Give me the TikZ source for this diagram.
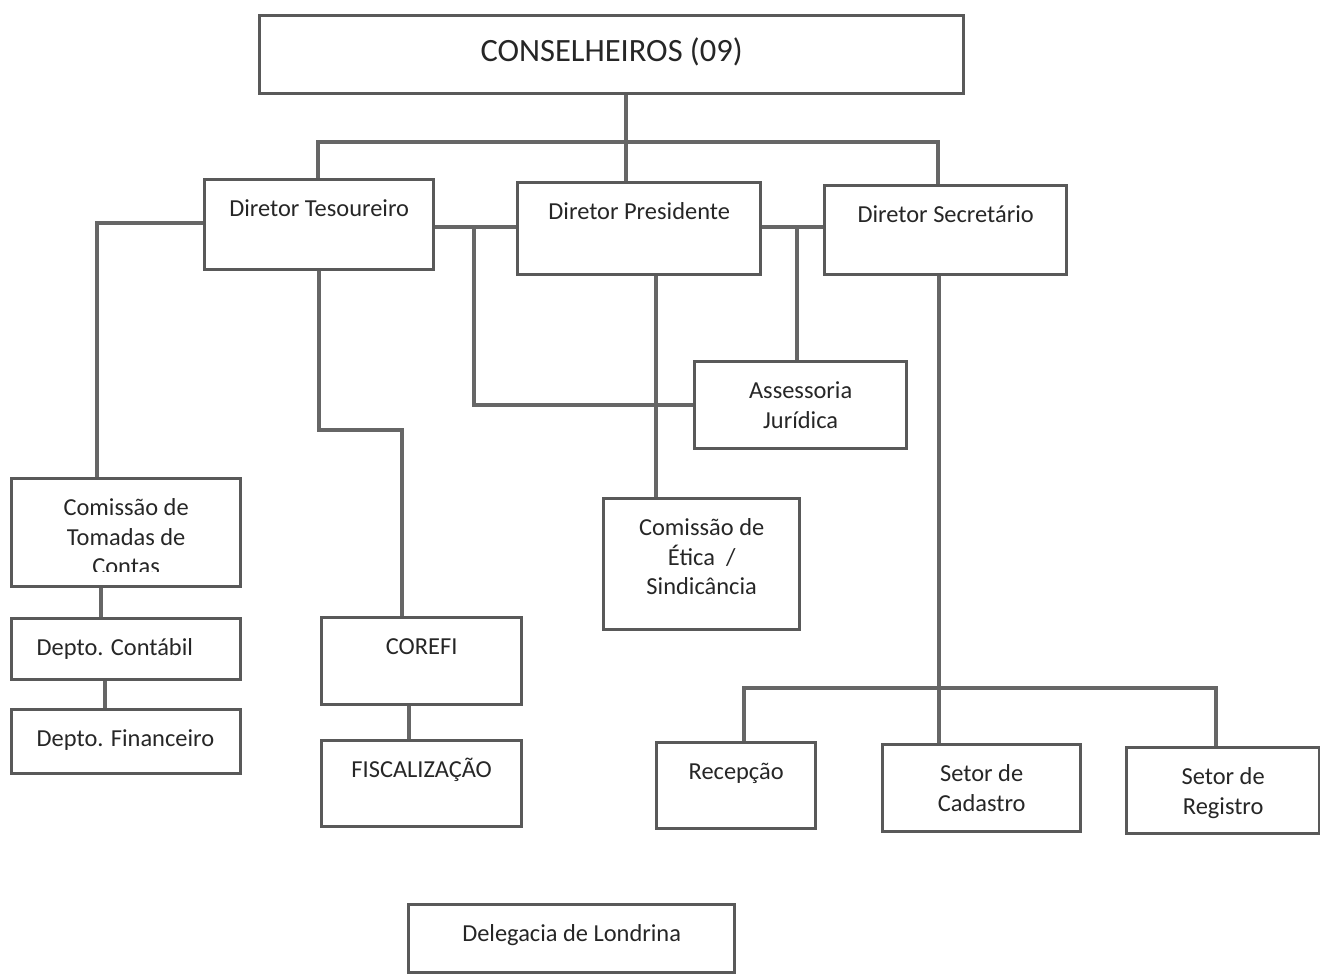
\documentclass[tikz,border=0pt]{standalone}
\usepackage{fontspec}
\setmainfont{Carlito}
\usetikzlibrary{positioning}
\newlength{\px}
\setlength{\px}{0.02cm}

\begin{document}
\begin{tikzpicture}[x=0.02cm, y=-0.02cm,
  main/.style = {draw=black!65, line width=1.9pt, anchor=north west, inner sep=0pt,
    align=flush center, text height=37\px, font=\fontsize{13.9}{16.7}\selectfont, text=black!85},
  link/.style = {draw=black!60, line width=2pt}]
\useasboundingbox (0,0) rectangle (1320,974);

\node[main, text width=704\px, text height=46\px, text depth=32\px, font=\fontsize{18.5}{21}\selectfont] (1) at (258,14) {CONSELHEIROS (09)};
\node[main, text width=229\px, text depth=53\px] (2) at (203,178) {Diretor Tesoureiro};
\node[main, text width=243\px, text depth=55\px] (3) at (516,181) {Diretor Presidente};
\node[main, text width=242\px, text depth=52\px] (4) at (823,184) {Diretor Secretário};
\node[main, text width=212\px, text depth=50\px] (5) at (693,360) {Assessoria\\Jurídica};
\node[main, text width=196\px, text depth=94\px] (6) at (602,497) {Comissão de\\Ética\ \ /\\Sindicância};
\node[main, text width=229\px, text depth=71\px] (7) at (10,477) {Comissão de\\Tomadas de\\Contas};
\fill[white] (7.south west) ++(4,-3) rectangle ++(220,-13);
\node[main, text width=229\px, text depth=24\px, align=flush left] (8) at (10,617) {\hspace*{25\px}Depto. Contábil};
\node[main, text width=229\px, text depth=27\px, align=flush left] (9) at (10,708) {\hspace*{25\px}Depto. Financeiro};
\node[main, text width=200\px, text depth=50\px] (10) at (320,616) {COREFI};
\node[main, text width=200\px, text depth=49\px] (11) at (320,739) {FISCALIZAÇÃO};
\node[main, text width=159\px, text depth=49\px] (12) at (655,741) {Recepção};
\node[main, text width=198\px, text depth=50\px] (13) at (881,743) {Setor de\\Cadastro};
\node[main, text width=193\px, text depth=49\px] (14) at (1125,746) {Setor de\\Registro};
\node[main, text width=326\px, text depth=31\px] (15) at (407,903) {Delegacia de Londrina};

% junctions
\coordinate (a) at (626,142);
\coordinate (al) at (318,142);
\coordinate (ar) at (938,142);
\coordinate (b) at (474,227);
\coordinate (c) at (797,227);
\coordinate (d) at (656,400);
\coordinate (e) at (97,223);
\coordinate (f) at (402,430);
\coordinate (g) at (101,600);
\coordinate (h) at (105,694);
\coordinate (k) at (409,720);
\coordinate (m) at (939,688);
\coordinate (ml) at (744,688);
\coordinate (mr) at (1216,688);

\draw[link] (1.south -| a) -- (3.north -| a);
\draw[link] (2.north -| al) -- (al) -- (ar) -- (4.north -| ar);
\draw[link] (2.east |- b) -- (3.west |- b);
\draw[link] (3.east |- c) -- (4.west |- c);
\draw[link] (b) |- (5.west);
\draw[link] (c) -- (5.north -| c);
\draw[link] (3.south -| d) -- (6.north -| d);
\draw[link] (2.west |- e) -| (7.north -| e);
\draw[link] (2.south) |- (f) -- (10.north -| f);
\draw[link] (7.south -| g) -- (8.north -| g);
\draw[link] (8.south -| h) -- (9.north -| h);
\draw[link] (10.south -| k) -- (11.north -| k);
\draw[link] (4.south -| m) -- (13.north -| m);
\draw[link] (12.north -| ml) -- (ml) -- (mr) -- (14.north -| mr);
\end{tikzpicture}
\end{document}
